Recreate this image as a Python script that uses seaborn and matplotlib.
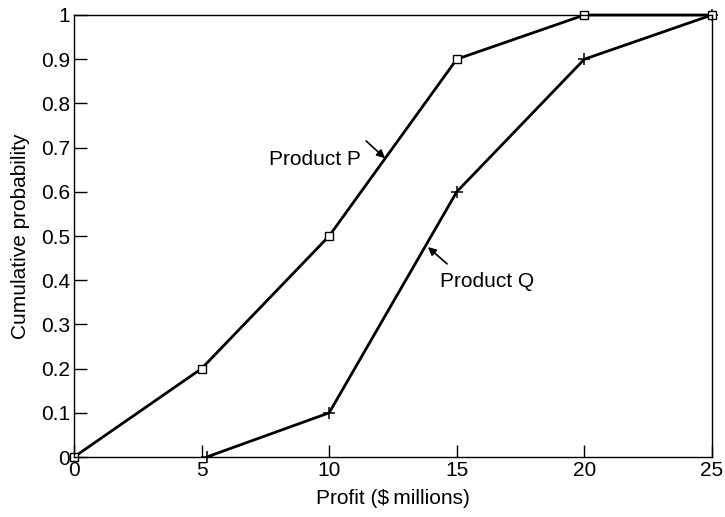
import matplotlib
matplotlib.use("Agg")
import matplotlib.pyplot as plt
import seaborn as sns
import pandas as pd

sns.set_theme(style="white")
plt.rcParams['font.family'] = ['Liberation Sans', 'DejaVu Sans']
plt.rcParams['text.color'] = 'black'

# ---- data ----
p_profit = [0, 5, 10, 15, 20, 25]
p_prob = [0, 0.2, 0.5, 0.9, 1.0, 1.0]
q_profit = [5.2, 10, 15, 20, 25]
q_prob = [0, 0.1, 0.6, 0.9, 1.0]

x_ticks = [0, 5, 10, 15, 20, 25]
y_ticks = [0, 0.1, 0.2, 0.3, 0.4, 0.5, 0.6, 0.7, 0.8, 0.9, 1.0]
y_labels = ["0", "0.1", "0.2", "0.3", "0.4", "0.5", "0.6", "0.7", "0.8", "0.9", "1"]

df_p = pd.DataFrame({"profit": p_profit, "prob": p_prob})
df_q = pd.DataFrame({"profit": q_profit, "prob": q_prob})

fig = plt.figure(figsize=(7.25, 5.17), dpi=100)
ax = fig.add_axes([0.102, 0.116, 0.88, 0.855])

sns.lineplot(data=df_q, x="profit", y="prob", ax=ax, color="black", lw=2,
             marker="+", markersize=8, markeredgecolor="black",
             markeredgewidth=1.1, clip_on=False)
sns.lineplot(data=df_p, x="profit", y="prob", ax=ax, color="black", lw=2,
             marker="s", markersize=6, markerfacecolor="white",
             markeredgecolor="black", markeredgewidth=1.0, clip_on=False)

ax.set_xlim(0, 25)
ax.set_ylim(0, 1)
ax.set_xticks(x_ticks)
ax.set_xticklabels([str(t) for t in x_ticks])
ax.set_yticks(y_ticks)
ax.set_yticklabels(y_labels)
ax.tick_params(direction="in", length=9, width=1, colors="black",
               labelsize=15, left=True, bottom=True, pad=3)
for s in ax.spines.values():
    s.set_color("black")
    s.set_linewidth(1)

# thin space between $ and millions, as in the original
ax.set_xlabel("Profit ($\u2009millions)", fontsize=15, color="black", labelpad=6)
ax.set_ylabel("Cumulative probability", fontsize=15, color="black", labelpad=8)

# labels and their arrows
ax.text(7.65, 0.672, "Product P", fontsize=15, va="center", ha="left")
ax.annotate("", xy=(12.19, 0.676), xytext=(11.45, 0.715),
            arrowprops=dict(arrowstyle="-|>", color="black", lw=1.2,
                            shrinkA=0, shrinkB=0, mutation_scale=12))
ax.text(14.35, 0.396, "Product Q", fontsize=15, va="center", ha="left")
ax.annotate("", xy=(13.87, 0.475), xytext=(14.62, 0.437),
            arrowprops=dict(arrowstyle="-|>", color="black", lw=1.2,
                            shrinkA=0, shrinkB=0, mutation_scale=12))

fig.savefig("out.png", dpi=100)
